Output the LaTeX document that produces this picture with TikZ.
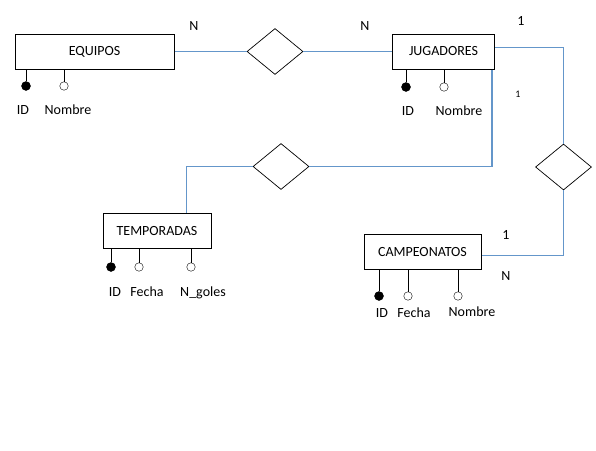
\documentclass[tikz,border=0pt]{standalone}
\usepackage{fontspec}
\setmainfont{Carlito}
\usetikzlibrary{shapes.geometric}
\definecolor{azul}{RGB}{100,150,202}

\begin{document}
\begin{tikzpicture}[
    x=1pt, y=-1pt,
    font=\fontsize{14}{17}\selectfont,
    entidad/.style={draw, rectangle, line width=1pt, fill=white, minimum height=35pt, inner sep=0pt},
    relacion/.style={draw, diamond, line width=0.7pt, fill=white, minimum width=56pt, minimum height=46pt, inner sep=0pt},
    clave/.style={draw, circle, fill=black, inner sep=0pt, minimum size=9pt},
    atributo/.style={draw, circle, fill=white, inner sep=0pt, minimum size=8.5pt},
    texto/.style={inner sep=1pt, text height=10pt, text depth=3pt},
    linea/.style={draw=azul, line width=1.3pt}
]
    \useasboundingbox (0,0) rectangle (596,450);

    % Entidades y relaciones
    \node [entidad, minimum width=159pt] (equipos) at (94.5,51.5) {EQUIPOS};
    \node [entidad, minimum width=102pt] (jugadores) at (443.5,51.5) {JUGADORES};
    \node [entidad, minimum width=108pt] (temporadas) at (157,230.5) {TEMPORADAS};
    \node [entidad, minimum width=117pt] (campeonatos) at (422.5,251.5) {CAMPEONATOS};
    \node [relacion] (juega) at (275,51.5) {};
    \node [relacion] (participa) at (281,166.5) {};
    \node [relacion] (gana) at (563.5,167) {};

    % Lineas entre entidades y relaciones
    \draw [linea] (equipos) -- (juega);
    \draw [linea] (juega) -- (jugadores);
    \draw [linea] ([xshift=-3pt]jugadores.south east) |- (participa);
    \draw [linea] (participa) -| ([xshift=29.5pt]temporadas.north);
    \draw [linea] ([yshift=4pt]jugadores.east) -| (gana);
    \draw [linea] (gana) |- ([yshift=-4pt]campeonatos.east);

    % Cardinalidades
    \node [texto] (card1) at (194,27) {N};
    \node [texto] (card2) at (365,27) {N};
    \node [texto] (card3) at (521,22) {1};
    \node [texto, font=\fontsize{10}{12}\selectfont] (card4) at (518,94) {1};
    \node [texto] (card5) at (506,236) {1};
    \node [texto] (card6) at (506,277) {N};

    % Atributos de EQUIPOS
    \node [clave] (eqid) at (26,86) {};
    \node [atributo] (eqnombre) at (64,86) {};
    \draw (eqid) -- (eqid |- equipos.south);
    \draw (eqnombre) -- (eqnombre |- equipos.south);
    \node [texto] (eqidtxt) at (23,111) {ID};
    \node [texto] (eqnombretxt) at (68,111) {Nombre};

    % Atributos de JUGADORES
    \node [clave] (juid) at (406,87) {};
    \node [atributo] (junombre) at (444,87) {};
    \draw (juid) -- (juid |- jugadores.south);
    \draw (junombre) -- (junombre |- jugadores.south);
    \node [texto] (juidtxt) at (408,112) {ID};
    \node [texto] (junombretxt) at (459,112) {Nombre};

    % Atributos de TEMPORADAS
    \node [clave] (teid) at (111,267) {};
    \node [atributo] (tefecha) at (139,267) {};
    \node [atributo] (tegoles) at (191,267) {};
    \draw (teid) -- (teid |- temporadas.south);
    \draw (tefecha) -- (tefecha |- temporadas.south);
    \draw (tegoles) -- (tegoles |- temporadas.south);
    \node [texto] (teidtxt) at (115,293) {ID};
    \node [texto] (tefechatxt) at (147,293) {Fecha};
    \node [texto] (tegolestxt) at (203,293) {N\_goles};

    % Atributos de CAMPEONATOS
    \node [clave] (caid) at (379,296) {};
    \node [atributo] (cafecha) at (408,296) {};
    \node [atributo] (canombre) at (458,296) {};
    \draw (caid) -- (caid |- campeonatos.south);
    \draw (cafecha) -- (cafecha |- campeonatos.south);
    \draw (canombre) -- (canombre |- campeonatos.south);
    \node [texto] (caidtxt) at (382,314) {ID};
    \node [texto] (cafechatxt) at (414,314) {Fecha};
    \node [texto] (canombretxt) at (472,313) {Nombre};

\end{tikzpicture}
\end{document}
